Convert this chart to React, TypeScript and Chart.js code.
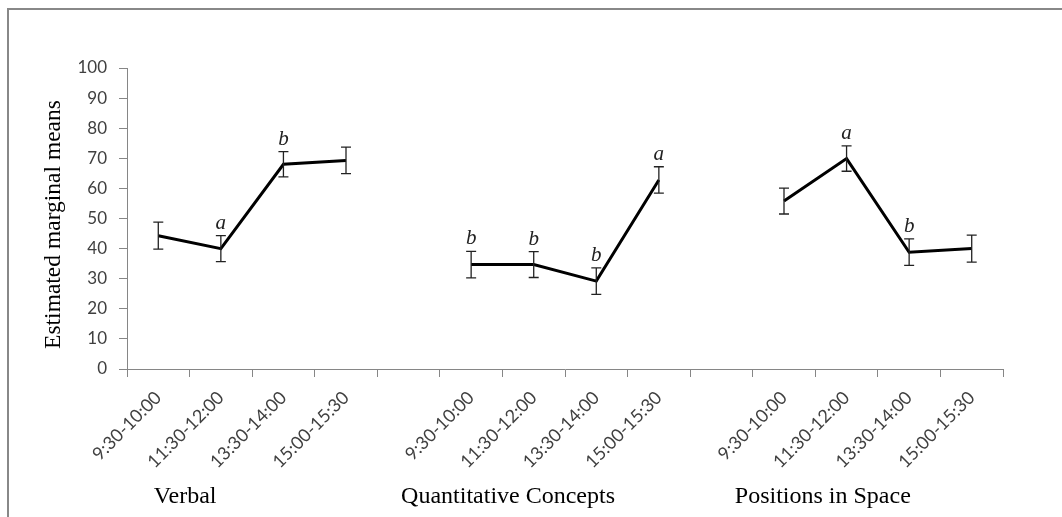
import React, { useEffect, useRef } from "react";
import { Chart, registerables } from "chart.js";

Chart.register(...registerables);

const timeSlots = ["9:30-10:00", "11:30-12:00", "13:30-14:00", "15:00-15:30"];
const groupNames = ["Verbal", "Quantitative Concepts", "Positions in Space"];

const verbalMeans = [44.3, 40.0, 68.0, 69.3];
const verbalErrors = [4.5, 4.3, 4.2, 4.4];
const verbalLetters = ["", "a", "b", ""];

const quantMeans = [34.7, 34.7, 29.2, 62.8];
const quantErrors = [4.4, 4.3, 4.4, 4.4];
const quantLetters = ["b", "b", "b", "a"];

const positionMeans = [55.8, 69.9, 38.8, 40.0];
const positionErrors = [4.3, 4.2, 4.4, 4.5];
const positionLetters = ["", "a", "b", ""];

const yMin = 0;
const yMax = 100;
const yStep = 10;
const yTitle = "Estimated marginal means";

const labels = [...timeSlots, "", ...timeSlots, "", ...timeSlots];
const means: (number | null)[] = [...verbalMeans, null, ...quantMeans, null, ...positionMeans];
const errors: (number | null)[] = [...verbalErrors, null, ...quantErrors, null, ...positionErrors];
const letters: string[] = [...verbalLetters, "", ...quantLetters, "", ...positionLetters];
const groupStarts = [0, 5, 10];

const AXIS = "#868686";
const TICK_TEXT = "#404040";
const GROUP_LABEL_SHIFT = [0.43, 0.59, 0.62];

const annotationsPlugin = {
  id: "annotations",
  afterDatasetsDraw(chart: any) {
    const ctx = chart.ctx;
    const x = chart.scales.x;
    const y = chart.scales.y;
    ctx.save();
    ctx.strokeStyle = "#222";
    ctx.lineWidth = 1.3;
    means.forEach((m, i) => {
      const e = errors[i];
      if (m == null || e == null) return;
      const px = x.getPixelForValue(i);
      const top = y.getPixelForValue(m + e);
      const bot = y.getPixelForValue(m - e);
      ctx.beginPath();
      ctx.moveTo(px, top);
      ctx.lineTo(px, bot);
      ctx.moveTo(px - 5, top);
      ctx.lineTo(px + 5, top);
      ctx.moveTo(px - 5, bot);
      ctx.lineTo(px + 5, bot);
      ctx.stroke();
      const letter = letters[i];
      if (letter) {
        ctx.fillStyle = "#222";
        ctx.font = "italic 21px 'Liberation Serif', serif";
        ctx.textAlign = "center";
        ctx.textBaseline = "alphabetic";
        ctx.fillText(letter, px, top - 7);
      }
    });
    ctx.restore();
  },
  afterDraw(chart: any) {
    const ctx = chart.ctx;
    const x = chart.scales.x;
    const area = chart.chartArea;
    ctx.save();
    ctx.strokeStyle = "#888888";
    ctx.lineWidth = 2;
    ctx.beginPath();
    ctx.moveTo(8, chart.height);
    ctx.lineTo(8, 9);
    ctx.lineTo(chart.width, 9);
    ctx.stroke();
    ctx.fillStyle = "#000";
    ctx.font = "24px 'Liberation Serif', serif";
    ctx.textAlign = "center";
    ctx.textBaseline = "alphabetic";
    groupNames.forEach((g, k) => {
      const px = x.getPixelForValue(groupStarts[k] + GROUP_LABEL_SHIFT[k]);
      ctx.fillText(g, px, 503);
    });
    ctx.font = "23.5px 'Liberation Serif', serif";
    ctx.translate(60, (area.top + area.bottom) / 2 + 6);
    ctx.rotate(-Math.PI / 2);
    ctx.fillText(yTitle, 0, 0);
    ctx.restore();
  },
};

export default function App() {
  const ref = useRef<HTMLCanvasElement>(null);
  useEffect(() => {
    if (!ref.current) return;
    const chart = new Chart(ref.current, {
      type: "line",
      data: {
        labels,
        datasets: [
          {
            data: means,
            borderColor: "#000",
            borderWidth: 3,
            pointRadius: 0,
            tension: 0,
            spanGaps: false,
            fill: false,
          },
        ],
      },
      options: {
        animation: false,
        responsive: false,
        maintainAspectRatio: false,
        layout: { padding: { top: 68, right: 59, left: 0, bottom: 0 } },
        plugins: { legend: { display: false }, tooltip: { enabled: false } },
        scales: {
          x: {
            type: "category",
            offset: true,
            grid: { offset: true, drawOnChartArea: false, drawTicks: true, tickLength: 8, color: AXIS },
            border: { color: AXIS, width: 1 },
            ticks: {
              autoSkip: false,
              minRotation: 45,
              maxRotation: 45,
              padding: 10,
              color: TICK_TEXT,
              font: { family: "Lato", size: 18 },
            },
            afterFit: (s: any) => {
              s.height = 148;
            },
          },
          y: {
            min: yMin,
            max: yMax,
            grid: { drawOnChartArea: false, drawTicks: true, tickLength: 8, color: AXIS },
            border: { color: AXIS, width: 1 },
            ticks: {
              stepSize: yStep,
              padding: 12,
              color: TICK_TEXT,
              font: { family: "Lato", size: 17 },
            },
            afterFit: (s: any) => {
              s.width = 127;
            },
          },
        },
      },
      plugins: [annotationsPlugin],
    });
    return () => chart.destroy();
  }, []);
  return (
    <div style={{ position: "fixed", left: 0, top: 0, width: 1062, height: 517, background: "#fff" }}>
      <canvas ref={ref} width={1062} height={517} style={{ display: "block" }} />
    </div>
  );
}
